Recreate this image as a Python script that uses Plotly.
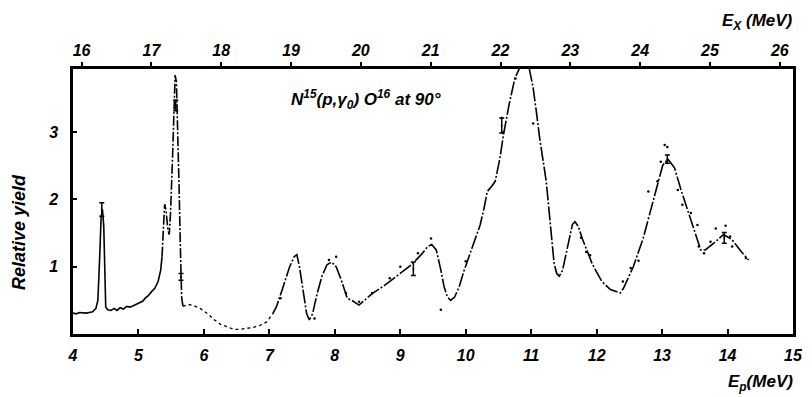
import plotly.graph_objects as go

# Proton energy grid (MeV) and relative yield of the N15(p,gamma0)O16 excitation curve
ep_low = [4.00, 4.05, 4.10, 4.15, 4.20, 4.25, 4.30, 4.35, 4.38, 4.41, 4.43, 4.45, 4.47, 4.49,
          4.50, 4.53, 4.58, 4.63, 4.67, 4.72, 4.77, 4.82, 4.87, 4.92, 4.97, 5.02, 5.07, 5.10,
          5.15, 5.20, 5.25, 5.30, 5.34, 5.36]
y_low = [0.31, 0.30, 0.32, 0.31, 0.31, 0.32, 0.33, 0.38, 0.50, 1.20, 1.75, 1.85, 1.60, 0.80,
         0.40, 0.36, 0.35, 0.38, 0.35, 0.39, 0.37, 0.41, 0.40, 0.42, 0.44, 0.46, 0.49, 0.53,
         0.57, 0.63, 0.68, 0.78, 0.95, 1.15]

ep_peak = [5.36, 5.38, 5.40, 5.42, 5.45, 5.47, 5.49, 5.52, 5.54, 5.56, 5.58, 5.60, 5.62,
           5.64, 5.65, 5.66, 5.68]
y_peak = [1.15, 1.60, 1.93, 1.85, 1.55, 1.48, 1.80, 2.60, 3.40, 3.85, 3.75, 3.10, 2.20,
          1.30, 0.85, 0.55, 0.41]

ep_valley = [5.68, 5.76, 5.85, 5.96, 6.06, 6.16, 6.26, 6.36, 6.46, 6.56, 6.66, 6.76, 6.86,
             6.96, 7.05]
y_valley = [0.41, 0.44, 0.42, 0.37, 0.30, 0.21, 0.14, 0.10, 0.07, 0.07, 0.08, 0.10, 0.13,
            0.18, 0.30]

ep_high = [7.05, 7.11, 7.21, 7.31, 7.38, 7.42, 7.46, 7.52, 7.57, 7.61, 7.66, 7.73, 7.80,
           7.88, 7.95, 8.02, 8.10, 8.19, 8.26, 8.37, 8.57, 8.77, 8.97, 9.17, 9.32, 9.42,
           9.48, 9.55, 9.62, 9.67, 9.72, 9.77, 9.83, 9.90, 9.97, 10.05, 10.13, 10.22, 10.28,
           10.33, 10.40, 10.45, 10.52, 10.58, 10.66, 10.75, 10.83, 10.90, 10.97, 11.03,
           11.08, 11.13, 11.23, 11.30, 11.35, 11.39, 11.43, 11.48, 11.53, 11.58, 11.63,
           11.67, 11.72, 11.78, 11.85, 11.93, 12.00, 12.08, 12.21, 12.30, 12.36, 12.41,
           12.46, 12.56, 12.71, 12.84, 12.94, 13.01, 13.09, 13.19, 13.29, 13.39, 13.49,
           13.59, 13.66, 13.79, 13.94, 14.07, 14.19, 14.32]
y_high = [0.30, 0.41, 0.70, 1.00, 1.15, 1.18, 1.00, 0.60, 0.30, 0.21, 0.30, 0.60, 0.85,
          1.03, 1.07, 1.00, 0.80, 0.53, 0.50, 0.43, 0.60, 0.73, 0.88, 1.03, 1.18, 1.30,
          1.33, 1.25, 0.95, 0.70, 0.55, 0.50, 0.55, 0.70, 0.93, 1.15, 1.37, 1.62, 1.87,
          2.12, 2.20, 2.27, 2.60, 2.98, 3.40, 3.80, 3.97, 4.00, 3.95, 3.66,
          3.30, 2.91, 2.27, 1.57, 1.05, 0.90, 0.86, 0.95, 1.18, 1.45, 1.63,
          1.67, 1.60, 1.42, 1.25, 1.05, 0.92, 0.78, 0.66, 0.63, 0.61, 0.68,
          0.78, 1.00, 1.42, 1.89, 2.24, 2.51, 2.60, 2.47, 2.14, 1.85, 1.55,
          1.25, 1.25, 1.35, 1.48, 1.40, 1.25, 1.10]

# Individual measured points scattered about the curve
pts_ep = [7.17, 7.69, 7.91, 8.02, 8.17, 8.37, 8.57, 8.84, 9.00, 9.27, 9.47, 9.62, 10.00,
          10.55, 10.56, 10.76, 11.03, 11.76, 11.84, 11.90, 12.40, 12.52, 12.64, 12.79,
          12.93, 12.98, 13.04, 13.08, 13.24, 13.31, 13.44, 13.54, 13.56, 13.64, 13.74,
          13.82, 13.97, 14.04, 14.07, 14.28]
pts_y = [0.53, 0.23, 1.10, 1.15, 0.61, 0.48, 0.61, 0.83, 1.00, 1.20, 1.42, 0.36, 1.08,
         3.21, 3.00, 3.80, 3.13, 1.43, 1.22, 1.17, 0.78, 0.98, 1.09, 2.12,
         2.27, 2.56, 2.81, 2.78, 2.14, 1.92, 1.80, 1.62, 1.30, 1.20, 1.37,
         1.57, 1.61, 1.45, 1.30, 1.13]

# Points carrying error bars
err_ep = [4.44, 5.57, 5.65, 9.20, 10.55, 13.08, 13.95]
err_y = [1.85, 3.40, 0.85, 0.97, 3.10, 2.60, 1.43]
err_dy = [0.10, 0.08, 0.05, 0.10, 0.11, 0.06, 0.08]

# Axis ticks
ep_ticks = [4, 5, 6, 7, 8, 9, 10, 11, 12, 13, 14, 15]
ex_ticks = [16, 17, 18, 19, 20, 21, 22, 23, 24, 25, 26]
y_ticks = [1, 2, 3]

# Excitation energy in O16: Ex = Q + Ep * M(N15) / (M(N15) + M(p))
Q_VALUE = 12.127
MASS_FACTOR = 16.0 / 15.0
ex_tick_pos = [(ex - Q_VALUE) * MASS_FACTOR for ex in ex_ticks]

FONT = "Liberation Sans"


def bold_italic(size):
    return dict(family=FONT, size=size, color="black", weight="bold", style="italic")


CURVE_W = 1.6

fig = go.Figure()
fig.add_trace(go.Scatter(x=ep_low, y=y_low, mode="lines",
                         line=dict(color="black", width=CURVE_W), hoverinfo="skip"))
fig.add_trace(go.Scatter(x=ep_peak, y=y_peak, mode="lines",
                         line=dict(color="black", width=CURVE_W, dash="10px,2px,2px,2px"),
                         hoverinfo="skip"))
fig.add_trace(go.Scatter(x=ep_valley, y=y_valley, mode="lines",
                         line=dict(color="black", width=1.3, dash="dot"), hoverinfo="skip"))
fig.add_trace(go.Scatter(x=ep_high, y=y_high, mode="lines",
                         line=dict(color="black", width=CURVE_W, dash="14px,2px,2px,2px"),
                         hoverinfo="skip"))
fig.add_trace(go.Scatter(x=pts_ep, y=pts_y, mode="markers", xaxis="x2",
                         marker=dict(color="black", size=2.5), hoverinfo="skip"))
fig.add_trace(go.Scatter(x=err_ep, y=err_y, mode="markers",
                         marker=dict(color="black", size=2),
                         error_y=dict(type="data", array=err_dy, visible=True,
                                      color="black", thickness=1.5, width=2.5),
                         hoverinfo="skip"))

fig.update_layout(
    width=812, height=397,
    margin=dict(l=73, r=9, t=69, b=63),
    paper_bgcolor="white", plot_bgcolor="white",
    showlegend=False,
    xaxis=dict(range=[4, 15], tickvals=ep_ticks, ticktext=[str(v) for v in ep_ticks],
               showgrid=False, zeroline=False, showline=True, linecolor="black",
               linewidth=2.5, ticks="inside", ticklen=5, tickwidth=1.5, tickcolor="black",
               tickfont=bold_italic(16), ticklabelstandoff=5),
    xaxis2=dict(range=[4, 15], overlaying="x", side="top", matches="x",
                tickvals=ex_tick_pos, ticktext=[str(v) for v in ex_ticks],
                showgrid=False, zeroline=False, showline=True, linecolor="black",
                linewidth=2.5, ticks="outside", ticklen=4, tickwidth=1.5,
                tickcolor="black", tickfont=bold_italic(16), ticklabelstandoff=0),
    yaxis=dict(range=[0, 3.94], tickvals=y_ticks, ticktext=[str(v) for v in y_ticks],
               showgrid=False, zeroline=False, showline=True, linecolor="black",
               linewidth=2.5, mirror=True, ticks="inside", ticklen=4, tickwidth=1.5,
               tickcolor="black", tickfont=bold_italic(16), ticklabelstandoff=9),
)

fig.add_annotation(text="N<sup>15</sup>(p,γ<sub>0</sub>) O<sup>16</sup> at 90°",
                   x=8.47, y=3.48, xref="x", yref="y", showarrow=False,
                   font=bold_italic(17))
fig.add_annotation(text="Relative yield", textangle=-90,
                   x=-0.075, y=0.385, xref="paper", yref="paper", showarrow=False,
                   xanchor="center", yanchor="middle", font=bold_italic(18))
fig.add_annotation(text="E<sub>X</sub> (MeV)", x=1.003, y=1.177, xref="paper",
                   yref="paper", showarrow=False, xanchor="right", yanchor="middle",
                   font=bold_italic(17))
fig.add_annotation(text="E<sub>p</sub>(MeV)", x=1.003, y=-0.185, xref="paper",
                   yref="paper", showarrow=False, xanchor="right", yanchor="middle",
                   font=bold_italic(17))

fig.write_html("out.html")
